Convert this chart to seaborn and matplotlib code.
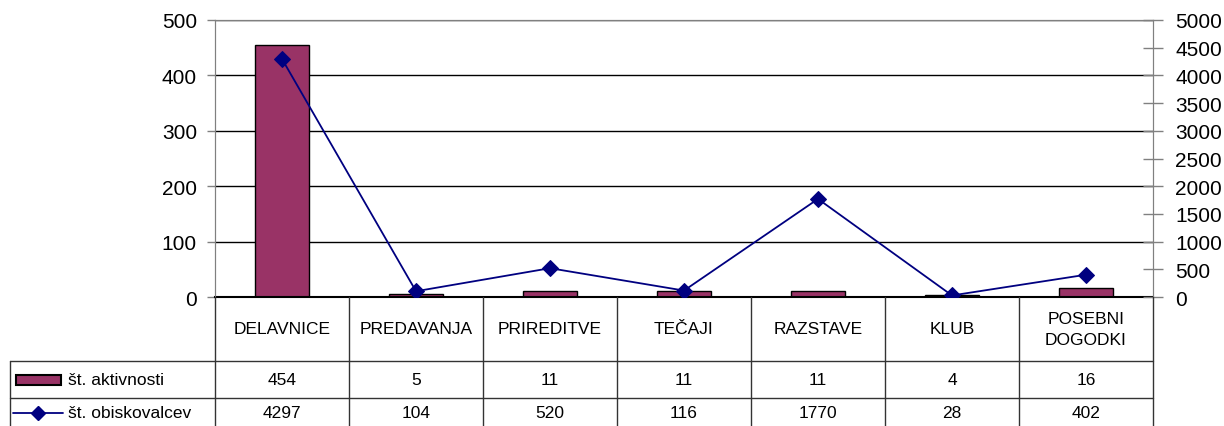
import numpy as np
import matplotlib
matplotlib.use('Agg')
import matplotlib.pyplot as plt
import seaborn as sns
from matplotlib import transforms
from matplotlib.lines import Line2D
from matplotlib.patches import Rectangle

# Data
categories = ['DELAVNICE', 'PREDAVANJA', 'PRIREDITVE', 'TEČAJI', 'RAZSTAVE', 'KLUB', 'POSEBNI\nDOGODKI']
activities = [454, 5, 11, 11, 11, 4, 16]
visitors = [4297, 104, 520, 116, 1770, 28, 402]
series_names = ['št. aktivnosti', 'št. obiskovalcev']
left_ticks = [0, 100, 200, 300, 400, 500]
right_ticks = [0, 500, 1000, 1500, 2000, 2500, 3000, 3500, 4000, 4500, 5000]

bar_color = '#993366'
line_color = '#000080'
frame_gray = '#808080'
table_line = '#333333'

W, H = 1224, 427
sns.set_style('white')
plt.rcParams['font.family'] = ['Liberation Sans', 'DejaVu Sans']
plt.rcParams['text.color'] = 'black'
plt.rcParams['ytick.labelcolor'] = 'black'

fig = plt.figure(figsize=(W / 100, H / 100), dpi=100)
ax = fig.add_axes([215 / W, 1 - 298 / H, 938 / W, 277 / H])

# bars (left axis)
sns.barplot(x=categories, y=activities, color=bar_color, saturation=1, width=0.4,
            edgecolor='black', linewidth=1, ax=ax, zorder=2)
ax.set_xlim(-0.5, len(categories) - 0.5)
ax.set_ylim(0, 500)
ax.set_yticks(left_ticks)
ax.set_xticks([])
ax.set_xlabel('')
ax.set_ylabel('')
ax.yaxis.grid(True, color='black', linewidth=1)
ax.set_axisbelow(True)
ax.tick_params(axis='y', which='both', left=True, direction='out', length=6,
               width=1, color=frame_gray, labelcolor='black', labelsize=15, pad=7)
for side in ['top', 'left', 'right']:
    ax.spines[side].set_color(frame_gray)
ax.spines['bottom'].set_color('black')
ax.spines['bottom'].set_linewidth(1.5)

# line (right axis)
ax2 = ax.twinx()
sns.lineplot(x=np.arange(len(visitors)), y=visitors, ax=ax2, color=line_color,
             linewidth=1.3, marker='D', markersize=8, markeredgecolor=line_color)
ax2.set_ylim(0, 5000)
ax2.set_yticks(right_ticks)
ax2.set_ylabel('')
ax2.tick_params(axis='y', right=True, direction='inout', length=14, width=1,
                color=frame_gray, labelcolor='black', labelsize=15, pad=9)
for side in ['top', 'left', 'right']:
    ax2.spines[side].set_color(frame_gray)
ax2.spines['bottom'].set_visible(False)

# data table below the plot
def fy(py):
    return 1 - py / H

def fx(px):
    return px / W

trans = transforms.blended_transform_factory(ax.transData, fig.transFigure)
row_top, row1, row2, row_bot = 298, 362, 399, 440

# column lines
for i in range(len(categories) + 1):
    xe = i - 0.5
    fig.add_artist(Line2D([xe, xe], [fy(row_top), fy(row_bot)], transform=trans,
                          color=table_line, linewidth=1))
# row lines and legend box
for py in [row1, row2]:
    fig.add_artist(Line2D([fx(10), fx(1153)], [fy(py), fy(py)], transform=fig.transFigure,
                          color=table_line, linewidth=1))
fig.add_artist(Line2D([fx(10), fx(10)], [fy(row1), fy(row_bot)], transform=fig.transFigure,
                      color=table_line, linewidth=1))

# header and values
for i, cat in enumerate(categories):
    fig.text(i, fy((row_top + row1) / 2), cat, transform=trans,
             fontsize=12.5, ha='center', va='center', linespacing=1.5)
    fig.text(i, fy((row1 + row2) / 2), str(activities[i]), transform=trans,
             fontsize=12.5, ha='center', va='center')
    fig.text(i, fy(414), str(visitors[i]), transform=trans,
             fontsize=12.5, ha='center', va='center')

# legend keys
fig.add_artist(Rectangle((fx(16), fy(386)), (61 - 16) / W, 10 / H, transform=fig.transFigure,
                         facecolor=bar_color, edgecolor='black', linewidth=1.5))
fig.add_artist(Line2D([fx(13), fx(63)], [fy(414), fy(414)], transform=fig.transFigure,
                      color=line_color, linewidth=1.3))
fig.add_artist(Line2D([fx(38)], [fy(414)], transform=fig.transFigure, color=line_color,
                      marker='D', markersize=7, linestyle='none'))
fig.text(fx(68), fy((row1 + row2) / 2), series_names[0], fontsize=12.5, ha='left', va='center')
fig.text(fx(68), fy(414), series_names[1], fontsize=12.5, ha='left', va='center')

fig.savefig('out.png', dpi=100)
